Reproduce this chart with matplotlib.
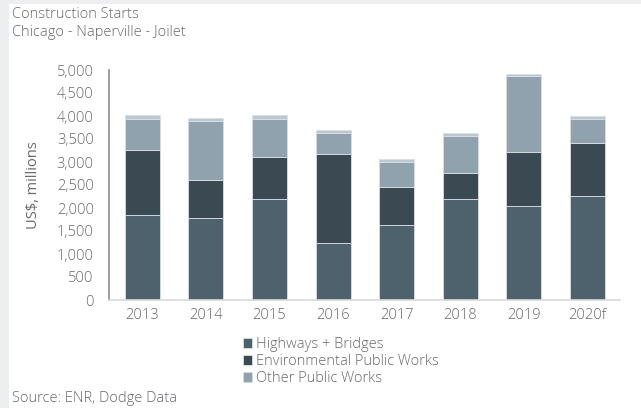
import matplotlib.pyplot as plt
from matplotlib.patches import Rectangle
import numpy as np

# Construction starts, US$ millions
years = ['2013', '2014', '2015', '2016', '2017', '2018', '2019', '2020f']
highways = [1840, 1780, 2200, 1240, 1630, 2200, 2040, 2270]
environmental = [1415, 830, 905, 1940, 820, 565, 1175, 1140]
other_public = [680, 1290, 835, 455, 545, 805, 1645, 535]
remainder = [85, 60, 85, 50, 70, 50, 50, 45]
y_ticks = [0, 500, 1000, 1500, 2000, 2500, 3000, 3500, 4000, 4500, 5000]

plt.rcParams['font.family'] = ['Open Sans', 'DejaVu Sans']
plt.rcParams['font.weight'] = 'light'
text_color = '#66696d'

fig = plt.figure(figsize=(6.41, 4.08), dpi=100)

# light grey frame along the top and left edge
fig.patches.append(Rectangle((0, 0), 9 / 641, 1, transform=fig.transFigure,
                             facecolor='#eceef0', edgecolor='none', zorder=-1))
fig.patches.append(Rectangle((0, 1 - 4 / 408), 1, 4 / 408, transform=fig.transFigure,
                             facecolor='#eceef0', edgecolor='none', zorder=-1))

ax = fig.add_axes([109 / 641, 1 - 300 / 408, (620 - 109) / 641, 230 / 408])

x = np.arange(len(years))
w = 0.55
edge = dict(edgecolor='#d9dfe3', linewidth=0.6)
b1 = ax.bar(x, highways, w, color='#4e626e', label='Highways + Bridges', **edge)
bottom = np.array(highways)
b2 = ax.bar(x, environmental, w, bottom=bottom, color='#3b4952',
            label='Environmental Public Works', **edge)
bottom = bottom + np.array(environmental)
b3 = ax.bar(x, other_public, w, bottom=bottom, color='#8fa2ad',
            label='Other Public Works', **edge)
bottom = bottom + np.array(other_public)
ax.bar(x, remainder, w, bottom=bottom, color='#bcc8cf', **edge)

ax.set_xlim(-0.52, 7.51)
ax.set_ylim(0, 5000)
ax.set_yticks(y_ticks)
ax.set_yticklabels([f'{v:,}' for v in y_ticks])
ax.set_xticks(x)
ax.set_xticklabels(years)
ax.tick_params(length=0, labelsize=10.5, colors=text_color, pad=11)
ax.tick_params(axis='x', pad=6)

for s in ['top', 'right']:
    ax.spines[s].set_visible(False)
ax.spines['left'].set_color('#8c8c8c')
ax.spines['left'].set_linewidth(1.2)
ax.spines['bottom'].set_color('#d9d9d9')
ax.spines['bottom'].set_linewidth(1.2)

ax.set_ylabel('US$, millions', fontsize=10.5, color=text_color, labelpad=11)

fig.text(12 / 641, 1 - 15 / 408, 'Construction Starts', fontsize=10.5,
         color=text_color, va='center')
fig.text(12 / 641, 1 - 32 / 408, 'Chicago - Naperville - Joilet', fontsize=10.5,
         color=text_color, va='center')
fig.text(12 / 641, 1 - 399 / 408, 'Source: ENR, Dodge Data', fontsize=10.5,
         color=text_color, va='center')

fig.legend(handles=[b1, b2, b3], loc='upper left',
           bbox_to_anchor=(243 / 641, 1 - 337 / 408), frameon=False,
           fontsize=10.5, labelcolor=text_color, handlelength=0.65,
           handleheight=0.65, handletextpad=0.25, labelspacing=0.15,
           borderaxespad=0, borderpad=0)

fig.savefig('out.png', dpi=100)
